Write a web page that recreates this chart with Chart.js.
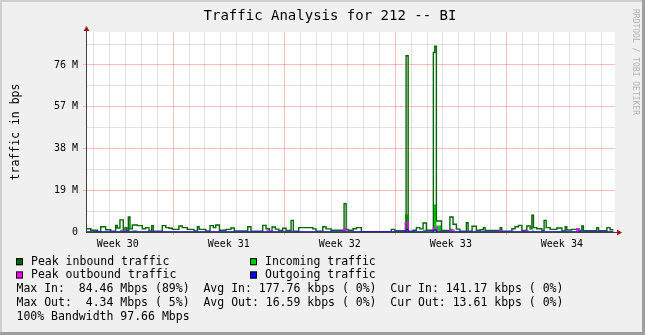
<!DOCTYPE html>
<html><head><meta charset="utf-8">
<title>Traffic Analysis for 212 -- BI</title>
<script src="https://cdn.jsdelivr.net/npm/chart.js@4.4.0/dist/chart.umd.min.js"></script>
<style>html,body{margin:0;padding:0;background:#f0f0f0}canvas{display:block}</style>
</head><body>
<canvas id="c" width="645" height="335"></canvas>
<script>
'use strict';
// ══ DATA — x in days from start of graph, y in Mbps (value holds until next x) ══
const peakInT=[1.50,1.80,2.21,2.43,2.74,3.06,3.37,3.47,3.64,3.85,3.96,4.07,4.17,4.27,4.42,4.74,5.05,5.26,5.47,5.64,
  5.74,6.31,6.53,6.73,6.94,7.36,7.57,7.89,8.31,8.52,8.63,9.05,9.32,9.53,9.68,9.91,10.33,10.64,10.85,11.70,
  11.90,12.64,12.85,13.06,13.23,13.44,13.65,13.90,14.11,14.43,14.57,14.91,15.80,16.00,16.43,16.63,16.95,17.77,17.90,18.02,
  18.34,18.55,18.86,20.75,20.97,21.68,21.81,22.12,22.33,22.54,22.75,22.96,23.40,23.49,23.59,23.91,24.44,24.64,24.85,25.07,
  25.48,25.59,25.84,26.11,26.35,26.55,26.66,27.61,27.71,28.35,28.55,28.76,28.98,29.29,29.50,29.61,29.71,29.92,30.24,30.38,
  30.51,30.76,31.18,31.50,31.71,31.81,32.13,32.54,32.76,32.86,33.70,33.81,34.34,34.54,34.75];
const peakInV=[1.5,0.8,0.3,2.4,1.0,0.4,3.0,1.8,5.5,0.6,2.0,0.5,6.8,1.5,3.2,2.9,1.5,2.0,0.5,2.9,
  0.4,2.9,2.0,1.7,1.2,2.7,2.0,1.2,0.5,2.4,1.2,0.5,2.9,2.0,3.2,0.8,1.2,1.8,0.5,2.4,
  0.4,3.0,1.5,0.4,2.3,1.3,0.7,1.7,0.7,5.3,0.4,2.0,1.4,0.4,2.4,1.4,0.8,12.9,1.2,0.8,
  1.5,2.0,0.15,1.2,0.6,80.2,0.4,0.8,2.0,1.4,4.1,0.8,81.7,84.5,5.0,0.7,6.8,3.5,1.3,0.4,
  4.2,0.4,2.6,0.8,1.0,2.0,0.7,2.0,0.4,1.5,2.4,3.0,0.7,2.7,1.5,7.6,2.0,1.5,0.7,5.3,
  2.0,1.2,1.8,0.5,2.4,0.9,1.2,0.7,2.7,0.6,2.0,0.6,2.0,1.0,1.0];
const inT=[1.50,3.64,3.85,4.17,4.27,4.42,4.74,17.77,17.90,21.62,21.81,22.75,22.96,23.40,23.59,23.91,24.44,24.64,29.61,29.71,34.75];
const inV=[0.3,1.0,0.3,1.2,0.4,0.8,0.3,1.5,0.3,8.0,0.3,1.0,0.2,12.5,3.0,0.3,1.5,0.3,1.0,0.3,0.3];
const peakOutT=[1.50,3.85,3.96,12.92,13.05,17.75,17.90,21.62,21.81,23.40,23.65,24.45,24.70,27.57,27.71,29.24,29.36,32.44,32.59,34.75];
const peakOutV=[0,0.5,0,0.5,0,1.5,0,4.3,0,2.0,0,0.9,0,0.5,0,0.5,0,1.5,0,0];
const outT=[1.50,21.68,21.81,23.40,23.59,34.75];
const outV=[0.02,1.2,0.02,1.0,0.02,0.02];
// axis labels
const weekDays=[3.5,10.5,17.5,24.5,31.5];
const weekLabels=['Week 30','Week 31','Week 32','Week 33','Week 34'];
const legendItems=[['Peak inbound traffic','#006600'],['Incoming traffic','#00cc00'],['Peak outbound traffic','#ff00ff'],['Outgoing traffic','#0000ff']];
const statLines=['Max In:  84.46 Mbps (89%)  Avg In: 177.76 kbps ( 0%)  Cur In: 141.17 kbps ( 0%)',
  'Max Out:  4.34 Mbps ( 5%)  Avg Out: 16.59 kbps ( 0%)  Cur Out: 13.61 kbps ( 0%)',
  '100% Bandwidth 97.66 Mbps'];
const TITLE='Traffic Analysis for 212 -- BI',Y_TITLE='traffic in bps',MARK='RRDTOOL / TOBI OETIKER';

const MONO='"DejaVu Sans Mono",monospace';
const RED='rgba(255,80,80,0.38)',GRAY='rgba(150,150,150,0.28)',NONE='rgba(0,0,0,0)',ARROW='#a01818';
const pts=(t,v)=>t.map((x,i)=>({x,y:v[i]}));
const xTicks=[];for(let d=2;d<=34;d++)xTicks.push(d);
weekDays.forEach(d=>xTicks.push(d));xTicks.sort((a,b)=>a-b);
const isWk=v=>weekDays.indexOf(v)>-1;
const yMajor=v=>v>0&&Math.round(v/9.5)%2===0;

const frame={id:'frame',
  beforeDraw(ch){
    const c=ch.ctx,a=ch.chartArea;c.save();
    c.fillStyle='#f0f0f0';c.fillRect(0,0,ch.width,ch.height);
    c.fillStyle='#cfcfcf';c.fillRect(0,0,ch.width,2);c.fillRect(0,0,2,ch.height);
    c.fillStyle='#9f9f9f';c.fillRect(0,ch.height-3,ch.width,3);c.fillRect(ch.width-3,0,3,ch.height);
    c.fillStyle='#fff';c.fillRect(a.left,a.top,a.right-a.left,a.bottom-a.top);
    c.restore();
  },
  afterDraw(ch){
    const c=ch.ctx,a=ch.chartArea;c.save();
    // axis ends + arrows
    c.strokeStyle='#404040';c.lineWidth=1;c.beginPath();
    c.moveTo(a.left+0.5,a.top);c.lineTo(a.left+0.5,a.top-2);
    c.moveTo(a.right,a.bottom+0.5);c.lineTo(a.right+3,a.bottom+0.5);c.stroke();
    c.fillStyle=ARROW;c.beginPath();
    c.moveTo(a.left-2.5,a.top-1);c.lineTo(a.left+3.5,a.top-1);c.lineTo(a.left+0.5,a.top-6);c.closePath();c.fill();
    c.beginPath();c.moveTo(a.right+2,a.bottom-2.5);c.lineTo(a.right+2,a.bottom+3.5);c.lineTo(a.right+7,a.bottom+0.5);c.closePath();c.fill();
    // title & axis title
    c.fillStyle='#000';c.textBaseline='middle';c.textAlign='center';
    c.font='14px '+MONO;c.fillText(TITLE,330,16);
    c.save();c.translate(16,132);c.rotate(-Math.PI/2);c.font='11.5px '+MONO;c.fillText(Y_TITLE,0,0);c.restore();
    c.save();c.translate(635,62);c.rotate(Math.PI/2);c.font='8px '+MONO;c.fillStyle='#b0b0b0';c.fillText(MARK,0,0);c.restore();
    // legend
    c.textAlign='left';c.font='11.5px '+MONO;
    legendItems.forEach(([txt,col],i)=>{
      const x=i%2?250:16,y=i<2?261.7:275;
      c.fillStyle=col;c.fillRect(x,y-3.5,7,7);
      c.strokeStyle='#000';c.strokeRect(x+0.5,y-3,6,6);
      c.fillStyle='#000';c.fillText(txt,x+15,y);
    });
    statLines.forEach((s,i)=>c.fillText(s,16.5,289.3+i*14));
    c.restore();
  }};

new Chart(document.getElementById('c'),{
  type:'line',
  data:{datasets:[
    {label:legendItems[3][0],data:pts(outT,outV),borderColor:'#0000ff',borderWidth:1,stepped:'before',fill:false,order:1},
    {label:legendItems[2][0],data:pts(peakOutT,peakOutV),borderColor:'#ff00ff',borderWidth:1.2,stepped:'before',fill:false,order:2},
    {label:legendItems[0][0],data:pts(peakInT,peakInV),borderColor:'#006600',borderWidth:1.4,stepped:'before',fill:false,order:3},
    {label:legendItems[1][0],data:pts(inT,inV),borderColor:'#00cc00',backgroundColor:'#00cc00',borderWidth:0,stepped:'before',fill:'origin',order:4}
  ]},
  options:{responsive:false,animation:false,devicePixelRatio:1,
    layout:{padding:{left:0,right:30,top:32,bottom:83}},
    elements:{point:{radius:0}},
    plugins:{legend:{display:false},tooltip:{enabled:false}},
    scales:{
      x:{type:'linear',min:1.5,max:34.85,afterFit:s=>{s.height=20},
        afterBuildTicks:s=>{s.ticks=xTicks.map(v=>({value:v}))},
        ticks:{autoSkip:false,maxRotation:0,padding:3,color:'#000',font:{family:MONO,size:10},
          callback:v=>isWk(v)?weekLabels[weekDays.indexOf(v)]:''},
        grid:{color:c=>isWk(c.tick.value)?NONE:(c.tick.value%7===0?RED:GRAY),tickLength:3,
          tickColor:c=>c.tick.value%7===0?RED:NONE},
        border:{color:'#404040'}},
      y:{min:0,max:91,afterFit:s=>{s.width=86},
        ticks:{stepSize:9.5,includeBounds:false,autoSkip:false,padding:5,color:'#000',font:{family:MONO,size:10},
          callback:v=>v===0?'0':(yMajor(v)?Math.round(v)+' M':'')},
        grid:{color:c=>c.tick.value===0?NONE:(yMajor(c.tick.value)?RED:GRAY),tickLength:3,
          tickColor:c=>yMajor(c.tick.value)?RED:NONE},
        border:{color:'#404040'}}
    }},
  plugins:[frame]
});
</script>
</body></html>
